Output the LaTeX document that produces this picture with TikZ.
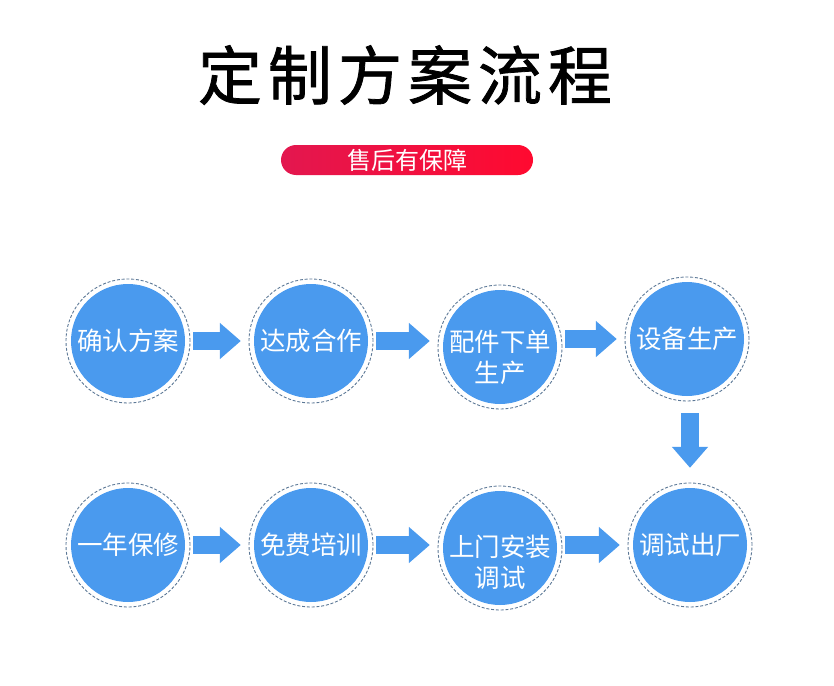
\documentclass[tikz,border=0pt]{standalone}
\usepackage{fontspec}
\setmainfont{Noto Sans CJK SC}
\newfontfamily\titlefont[FakeBold=1.2]{Noto Sans CJK SC}
\usetikzlibrary{arrows.meta}

\definecolor{stageblue}{HTML}{4A9AEE}
\definecolor{ringgray}{HTML}{5C7896}
\definecolor{pillleft}{HTML}{E3174F}
\definecolor{pillright}{HTML}{FF0A30}

\begin{document}
\begin{tikzpicture}[
  x=1pt, y=-1pt,
  stage/.style={circle, fill=stageblue, minimum size=114pt, inner sep=0pt,
                text=white, font=\fontsize{25.5}{32}\selectfont, align=center},
  caption/.style={text=white, font=\fontsize{25.5}{31}\selectfont, align=center},
  ring/.style={circle, draw=ringgray, dash pattern=on 3pt off 1.8pt,
               line width=0.9pt, minimum size=124pt, inner sep=0pt},
  flow/.style={draw=stageblue, line width=18pt,
               -{Triangle[length=21pt, width=35pt]}}
]
  \useasboundingbox (0,0) rectangle (834,685);
  % title and badge
  \node[font=\titlefont\fontsize{64}{68}\selectfont] (title) at (405,75)
    {定\hspace{6pt}制\hspace{6pt}方\hspace{6pt}案\hspace{6pt}流\hspace{6pt}程};
  \node[rounded corners=15pt, minimum width=252pt, minimum height=30pt,
        left color=pillleft, right color=pillright, text=white,
        font=\fontsize{24}{26}\selectfont] (badge) at (407,160) {售后有保障};
  % first row
  \node[stage] (s1) at (128,341) {确认方案};
  \node[stage] (s2) at (311,341) {达成合作};
  \node[stage] (s3) at (500,347) {};
  \node[caption] (s3t) at (500,357) {配件下单\\生产};
  \node[stage] (s4) at (687,339) {设备生产};
  % second row
  \node[stage] (s8) at (128,545) {一年保修};
  \node[stage] (s7) at (311,545) {免费培训};
  \node[stage] (s6) at (500,548) {};
  \node[caption] (s6t) at (500,562) {上门安装\\调试};
  \node[stage] (s5) at (690,545) {调试出厂};
  \foreach \n in {s1,s2,s3,s4,s5,s6,s7,s8} \node[ring] at (\n) {};
  % arrows
  \draw[flow] ([xshift=8pt]s1.east) -- ([xshift=-13pt]s2.west);
  \draw[flow] ([xshift=8pt]s2.east) -- ([xshift=-13pt]s3.west |- s2);
  \draw[flow] ([xshift=8pt]s3.east |- s4) -- ([xshift=-13pt]s4.west);
  \draw[flow] ([yshift=-17pt]s4.south -| s5) -- ([yshift=20pt]s5.north);
  \draw[flow] ([xshift=8pt]s8.east) -- ([xshift=-13pt]s7.west);
  \draw[flow] ([xshift=8pt]s7.east) -- ([xshift=-13pt]s6.west |- s7);
  \draw[flow] ([xshift=8pt]s6.east |- s5) -- ([xshift=-13pt]s5.west);
\end{tikzpicture}
\end{document}
